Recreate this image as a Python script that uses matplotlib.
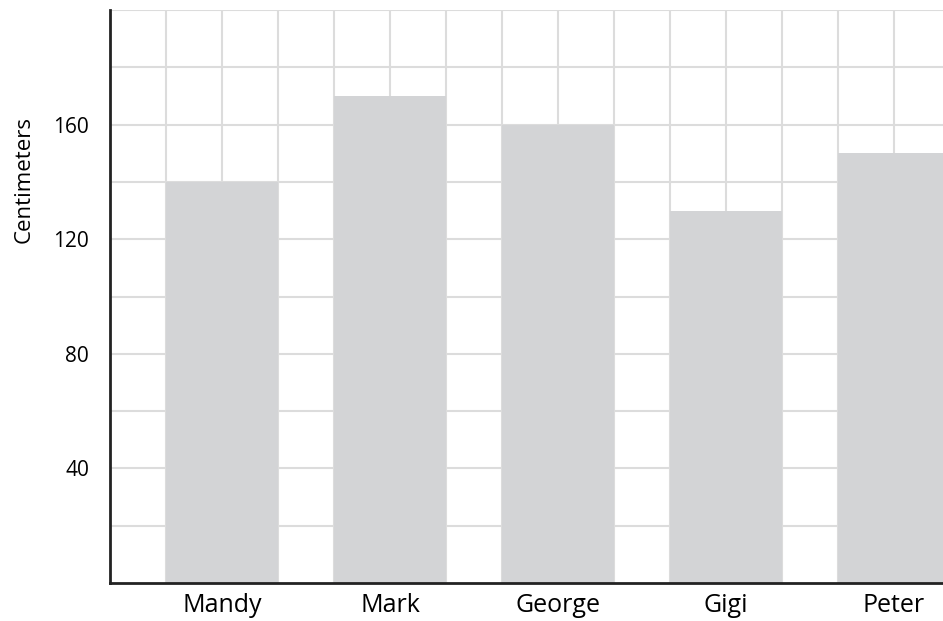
import numpy as np
import matplotlib.pyplot as plt

# datos
nombres = ["Mandy", "Mark", "George", "Gigi", "Peter"]
alturas = [140, 170, 160, 130, 150]
yticks = [40, 80, 120, 160]

plt.rcParams['font.family'] = ['Open Sans', 'DejaVu Sans']

fig = plt.figure(figsize=(9.43, 6.21), dpi=100)
ax = fig.add_axes([110/943, 1 - 583/621, 1 - 110/943, (583 - 10)/621])

pos = np.arange(len(nombres)) * 3 + 2
ax.bar(pos, alturas, width=2, color="#d3d4d6", zorder=2)

ax.set_xlim(0, 833/56)
ax.set_ylim(0, 200)

# grilla
for x in np.arange(1, 15):
    ax.axvline(x, color="#dcdcdc", lw=1.5, zorder=1)
for y in np.arange(20, 201, 20):
    ax.axhline(y, color="#dcdcdc", lw=1.5, zorder=1)

ax.set_xticks(pos)
ax.set_xticklabels(nombres, fontsize=18)
ax.set_yticks(yticks)
ax.set_yticklabels([str(v) for v in yticks], fontsize=15)
ax.tick_params(axis="both", length=0)
ax.tick_params(axis="y", pad=15)
ax.tick_params(axis="x", pad=7)

ax.set_ylabel("Centimeters", fontsize=16)
ax.yaxis.set_label_coords(-0.09, 0.705)

for s in ["top", "right"]:
    ax.spines[s].set_visible(False)
ax.spines["left"].set_linewidth(2)
ax.spines["bottom"].set_linewidth(2)
ax.spines["left"].set_color("#222222")
ax.spines["bottom"].set_color("#222222")

plt.savefig("out.png", dpi=100)
